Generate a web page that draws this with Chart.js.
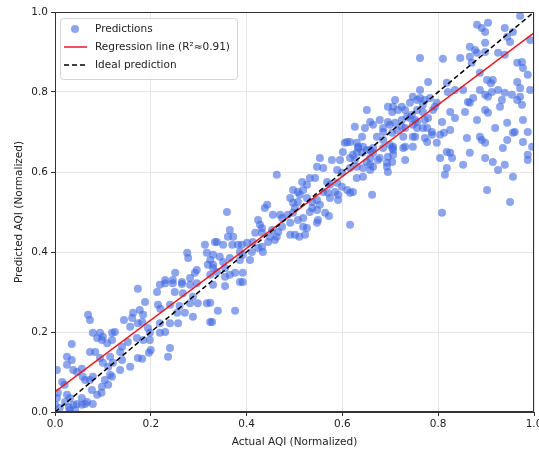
<!DOCTYPE html>
<html>
<head>
<meta charset="utf-8">
<script src="https://cdn.jsdelivr.net/npm/chart.js@4"></script>
<style>
html,body{margin:0;padding:0;background:#fff;}
#wrap{width:539px;height:453px;position:relative;}
</style>
</head>
<body>
<div id="wrap"><canvas id="c" width="539" height="453"></canvas></div>
<script>
// ---- data ----
const actualAQI = [
0.173,0.219,0.23,0.246,0.265,0.282,0.296,0.213,0.25,0.188,
0.215,0.22,0.267,0.282,0.298,0.317,0.24,0.26,0.288,0.069,
0.073,0.163,0.161,0.177,0.184,0.144,0.255,0.271,0.288,0.324,
0.219,0.24,0.257,0.157,0.173,0.182,0.194,0.198,0.079,0.094,
0.1,0.088,0.098,0.119,0.119,0.109,0.125,0.171,0.184,0.198,
0.152,0.14,0.219,0.23,0.2,0.196,0.24,0.236,0.173,0.182,
0.157,0.136,0.14,0.115,0.121,0.111,0.1,0.094,0.073,0.084,
0.025,0.035,0.025,0.004,0.038,0.046,0.056,0.058,0.073,0.063,
0.015,0.02,0.079,0.104,0.119,0.111,0.098,0.077,0.088,0.097,
0.056,0.067,0.056,0.025,0.031,0.021,0.038,0.029,0.006,0.004,
0.0,0.01,0.031,0.042,0.136,0.115,0.035,0.046,0.063,0.079,
0.553,0.578,0.547,0.56,0.601,0.622,0.63,0.651,0.664,0.589,
0.599,0.616,0.63,0.643,0.658,0.463,0.63,0.643,0.658,0.516,
0.526,0.532,0.543,0.568,0.574,0.589,0.599,0.497,0.507,0.518,
0.511,0.56,0.57,0.585,0.591,0.61,0.616,0.622,0.574,0.591,
0.662,0.491,0.497,0.507,0.501,0.526,0.537,0.547,0.553,0.537,
0.443,0.438,0.455,0.47,0.474,0.486,0.497,0.491,0.507,0.518,
0.532,0.547,0.564,0.572,0.518,0.526,0.547,0.549,0.616,0.359,
0.424,0.428,0.432,0.453,0.474,0.466,0.491,0.501,0.51,0.522,
0.365,0.361,0.372,0.338,0.351,0.37,0.382,0.39,0.401,0.413,
0.418,0.432,0.445,0.459,0.463,0.449,0.432,0.434,0.424,0.33,
0.344,0.351,0.365,0.386,0.392,0.407,0.411,0.386,0.33,0.338,
0.324,0.355,0.365,0.376,0.392,0.355,0.392,0.33,0.355,0.386,
0.34,0.376,0.328,0.324,0.313,0.334,0.276,0.278,0.317,0.324,
0.319,0.33,0.296,0.292,0.282,0.251,0.246,0.23,0.265,
0.971,0.881,0.904,0.891,0.898,0.939,0.956,0.944,0.95,0.992,
0.866,0.877,0.881,0.898,0.898,0.762,0.81,0.846,0.866,0.87,
0.925,0.939,0.965,0.975,0.977,0.987,0.779,0.887,0.902,0.91,
0.914,0.965,0.971,0.992,0.762,0.818,0.82,0.835,0.852,0.887,
0.898,0.912,0.925,0.939,0.954,0.971,0.862,0.873,0.904,0.933,
0.965,0.975,0.71,0.706,0.695,0.724,0.716,0.747,0.756,0.762,
0.772,0.783,0.797,0.789,0.731,0.735,0.745,0.756,0.752,0.768,
0.772,0.779,0.825,0.856,0.835,0.808,0.804,0.866,0.898,0.904,
0.929,0.881,0.944,0.977,0.96,0.987,0.977,0.996,0.678,0.664,
0.685,0.699,0.704,0.672,0.685,0.724,0.747,0.756,0.768,0.727,
0.747,0.772,0.787,0.812,0.797,0.825,0.86,0.887,0.891,0.898,
0.919,0.944,0.956,0.706,0.747,0.777,0.658,0.674,0.693,0.704,
0.706,0.704,0.731,0.731,0.695,0.804,0.818,0.825,0.829,0.818,
0.814,0.866,0.852,0.898,0.914,0.925,0.939,0.956,0.935,0.987,
0.987,0.902,0.95,0.808,0.651,0.658,0.626,0.647,0.641,0.61,
0.63,0.633,
0.741,0.704,0.768,0.793,0.695,0.71,0.724,0.741,0.756,0.685,
0.714,0.731,0.777,0.787,0.616,0.605,0.752,0.633,0.643,0.641,
0.658,0.664,0.685,0.699,0.706,0.727,0.695,0.595,0.616,0.626,
0.651,0.678,0.664,0.693
];
const predictedAQI = [
0.308,0.318,0.322,0.322,0.32,0.318,0.322,0.30,0.30,0.275,
0.268,0.258,0.297,0.272,0.272,0.272,0.268,0.265,0.288,0.243,
0.23,0.248,0.235,0.255,0.243,0.23,0.248,0.248,0.238,0.225,
0.222,0.222,0.222,0.213,0.222,0.225,0.21,0.198,0.198,0.198,
0.188,0.185,0.18,0.198,0.18,0.172,0.2,0.185,0.18,0.18,
0.175,0.163,0.198,0.2,0.155,0.148,0.16,0.138,0.135,0.133,
0.113,0.15,0.13,0.138,0.123,0.113,0.123,0.135,0.15,0.15,
0.138,0.13,0.118,0.105,0.105,0.1,0.108,0.088,0.08,0.08,
0.075,0.068,0.088,0.08,0.088,0.068,0.063,0.055,0.043,0.048,
0.035,0.025,0.018,0.043,0.035,0.025,0.018,0.012,0.048,0.035,
0.018,0.01,0.005,0.005,0.105,0.093,0.17,0.02,0.02,0.02,
0.635,0.63,0.613,0.61,0.65,0.643,0.648,0.655,0.66,0.605,
0.598,0.61,0.613,0.61,0.618,0.593,0.585,0.588,0.605,0.575,
0.568,0.585,0.585,0.575,0.568,0.573,0.563,0.555,0.55,0.555,
0.543,0.55,0.548,0.55,0.543,0.555,0.548,0.55,0.535,0.53,
0.543,0.535,0.523,0.525,0.51,0.535,0.525,0.53,0.518,0.51,
0.518,0.51,0.493,0.493,0.485,0.493,0.498,0.473,0.48,0.485,
0.5,0.505,0.498,0.49,0.463,0.46,0.473,0.48,0.468,0.5,
0.48,0.468,0.46,0.455,0.463,0.45,0.443,0.443,0.438,0.443,
0.455,0.438,0.438,0.425,0.418,0.418,0.418,0.418,0.423,0.425,
0.448,0.448,0.425,0.43,0.438,0.438,0.413,0.4,0.41,0.393,
0.388,0.375,0.385,0.38,0.393,0.38,0.4,0.4,0.368,0.35,
0.343,0.36,0.343,0.348,0.348,0.338,0.325,0.318,0.315,0.325,
0.253,0.253,0.225,0.273,0.418,0.425,0.398,0.385,0.398,0.38,
0.368,0.36,0.355,0.348,0.335,0.348,0.33,0.33,0.325,
0.99,0.968,0.973,0.96,0.95,0.96,0.95,0.938,0.925,0.93,
0.913,0.905,0.898,0.923,0.9,0.885,0.883,0.885,0.888,0.873,
0.898,0.893,0.873,0.875,0.86,0.843,0.825,0.848,0.83,0.822,
0.83,0.825,0.81,0.805,0.805,0.823,0.8,0.805,0.805,0.805,
0.793,0.8,0.805,0.798,0.793,0.788,0.775,0.785,0.788,0.78,
0.78,0.768,0.78,0.763,0.763,0.763,0.755,0.788,0.78,0.785,
0.78,0.785,0.773,0.755,0.755,0.738,0.743,0.755,0.73,0.75,
0.73,0.735,0.75,0.75,0.735,0.725,0.693,0.773,0.755,0.748,
0.763,0.73,0.723,0.73,0.7,0.7,0.675,0.663,0.73,0.718,
0.71,0.718,0.698,0.688,0.68,0.713,0.718,0.71,0.71,0.688,
0.688,0.685,0.693,0.698,0.673,0.705,0.685,0.688,0.68,0.673,
0.71,0.68,0.698,0.663,0.663,0.675,0.635,0.63,0.623,0.625,
0.643,0.66,0.663,0.63,0.6,0.635,0.65,0.648,0.635,0.61,
0.593,0.648,0.618,0.635,0.625,0.605,0.618,0.588,0.66,0.643,
0.63,0.555,0.525,0.498,0.755,0.725,0.713,0.71,0.688,0.675,
0.673,0.663,
0.773,0.75,0.768,0.763,0.725,0.723,0.73,0.735,0.725,0.7,
0.705,0.71,0.71,0.7,0.675,0.673,0.688,0.66,0.663,0.648,
0.655,0.648,0.66,0.668,0.655,0.66,0.638,0.63,0.635,0.63,
0.625,0.635,0.613,0.613
];
const regressionX = [0, 1];
const regressionY = [0.05, 0.948];
const idealX = [0, 1];
const idealY = [0, 1];
const tickValues = [0, 0.2, 0.4, 0.6, 0.8, 1.0];
const seriesLabels = ['Predictions', 'Regression line (R\u00B2\u22480.91)', 'Ideal prediction'];
const xTitle = 'Actual AQI (Normalized)';
const yTitle = 'Predicted AQI (Normalized)';

// ---- styles ----
const FONT = 'DejaVu Sans';
const pointColor = 'rgba(65,105,225,0.6)';
const regColor = '#e8181c';
const idealColor = '#000000';

const scatterData = actualAQI.map((x, i) => ({x: x, y: predictedAQI[i]}));
const regData = regressionX.map((x, i) => ({x: x, y: regressionY[i]}));
const idealData = idealX.map((x, i) => ({x: x, y: idealY[i]}));

const framePlugin = {
  id: 'frame',
  afterDraw(chart) {
    const {ctx, chartArea: a} = chart;
    ctx.save();
    ctx.strokeStyle = '#333';
    ctx.lineWidth = 1;
    ctx.strokeRect(a.left + 0.5, a.top + 0.5, a.right - a.left - 1, a.bottom - a.top - 1);
    // legend
    const lx = 60, ly = 18, lw = 177, lh = 61;
    ctx.fillStyle = 'rgba(255,255,255,0.85)';
    ctx.strokeStyle = '#d4d4d4';
    ctx.beginPath();
    if (ctx.roundRect) ctx.roundRect(lx + 0.5, ly + 0.5, lw, lh, 3); else ctx.rect(lx + 0.5, ly + 0.5, lw, lh);
    ctx.fill(); ctx.stroke();
    const rows = [29, 47, 65];
    ctx.font = '10.5px "' + FONT + '"';
    ctx.textBaseline = 'middle';
    ctx.textAlign = 'left';
    ctx.fillStyle = pointColor;
    ctx.beginPath(); ctx.arc(75, rows[0], 4, 0, Math.PI * 2); ctx.fill();
    ctx.strokeStyle = regColor; ctx.lineWidth = 1.5;
    ctx.beginPath(); ctx.moveTo(64, rows[1]); ctx.lineTo(87, rows[1]); ctx.stroke();
    ctx.strokeStyle = idealColor; ctx.setLineDash([5, 3]);
    ctx.beginPath(); ctx.moveTo(64, rows[2]); ctx.lineTo(87, rows[2]); ctx.stroke();
    ctx.setLineDash([]);
    ctx.fillStyle = '#222';
    seriesLabels.forEach((t, i) => ctx.fillText(t, 95, rows[i] + 0.5));
    ctx.restore();
  }
};

new Chart(document.getElementById('c'), {
  type: 'scatter',
  data: {
    datasets: [
      {label: seriesLabels[1], type: 'line', data: regData, borderColor: regColor, borderWidth: 1.5, pointRadius: 0, fill: false, order: 1},
      {label: seriesLabels[2], type: 'line', data: idealData, borderColor: idealColor, borderWidth: 1.5, borderDash: [5, 3], pointRadius: 0, fill: false, order: 0},
      {label: seriesLabels[0], data: scatterData, backgroundColor: pointColor, borderWidth: 0, pointRadius: 4, order: 2}
    ]
  },
  options: {
    responsive: false,
    animation: false,
    devicePixelRatio: 1,
    layout: {padding: {top: 12, right: 5, left: 0, bottom: 0}},
    plugins: {legend: {display: false}, tooltip: {enabled: false}},
    scales: {
      x: {
        type: 'linear', min: 0, max: 1,
        afterBuildTicks: s => { s.ticks = tickValues.map(v => ({value: v})); },
        afterFit: s => { s.height = 41; s.paddingLeft = 0; s.paddingRight = 0; },
        ticks: {font: {family: FONT, size: 10.5}, color: '#222', padding: 2, maxRotation: 0, callback: v => Number(v).toFixed(1)},
        grid: {color: '#e6e6e6', lineWidth: 1, tickLength: 4, tickColor: '#333', drawTicks: true},
        border: {display: true, color: '#333'},
        title: {display: true, text: xTitle, font: {family: FONT, size: 10.5}, color: '#222', padding: {top: 0, bottom: 4}}
      },
      y: {
        type: 'linear', min: 0, max: 1,
        afterBuildTicks: s => { s.ticks = tickValues.map(v => ({value: v})); },
        afterFit: s => { s.width = 55; s.paddingTop = 0; s.paddingBottom = 0; },
        ticks: {font: {family: FONT, size: 10.5}, color: '#222', padding: 3, callback: v => Number(v).toFixed(1)},
        grid: {color: '#e6e6e6', lineWidth: 1, tickLength: 4, tickColor: '#333', drawTicks: true},
        border: {display: true, color: '#333'},
        title: {display: true, text: yTitle, font: {family: FONT, size: 10.5}, color: '#222', padding: {top: 13, bottom: 0}}
      }
    }
  },
  plugins: [framePlugin]
});
</script>
</body>
</html>
